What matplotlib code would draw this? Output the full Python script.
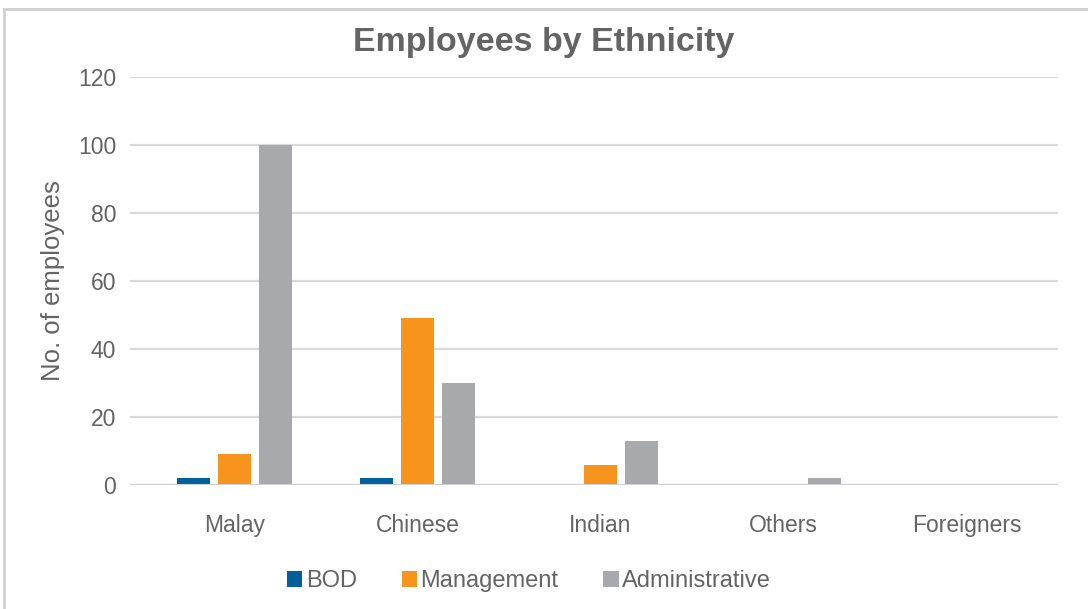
import matplotlib
matplotlib.use("Agg")
import matplotlib.pyplot as plt
import numpy as np
from matplotlib.patches import Rectangle

categories = ["Malay", "Chinese", "Indian", "Others", "Foreigners"]
bod = [2, 2, 0, 0, 0]
management = [9, 49, 6, 0, 0]
administrative = [100, 30, 13, 2, 0]
series_names = ["BOD", "Management", "Administrative"]
series_colors = ["#00609c", "#f7941d", "#a7a9ac"]
y_ticks = [0, 20, 40, 60, 80, 100, 120]

text_color = "#646464"
plt.rcParams["font.family"] = ["Liberation Sans", "DejaVu Sans"]

fig = plt.figure(figsize=(10.88, 6.09), dpi=100)
# outer frame of the chart area
fig.patches.append(Rectangle((4 / 1088, -0.1), 1.2, 1 - 9 / 609 + 0.1,
                             transform=fig.transFigure, fill=False,
                             edgecolor="#cfcfcf", linewidth=2.0))

ax = fig.add_axes([130 / 1088, 1 - 485 / 609, 928 / 1088, (485 - 77) / 609])

x = np.arange(len(categories))
width = 0.180
step = 0.224
for i, (vals, name, col) in enumerate(zip([bod, management, administrative],
                                          series_names, series_colors)):
    ax.bar(x + (i - 1) * step, vals, width=width, color=col, label=name, zorder=3)

ax.set_xlim(-0.571, 4.5)
ax.set_ylim(0, 120)
ax.set_yticks(y_ticks)
ax.set_xticks(x)
ax.set_xticklabels(categories)
ax.grid(axis="y", color="#d9d9d9", linewidth=1.6, zorder=0)
ax.axhline(0, color="#d0d0d0", linewidth=2.2, zorder=4)
for s in ax.spines.values():
    s.set_visible(False)
ax.tick_params(axis="both", length=0, labelsize=16.5, colors=text_color)
ax.tick_params(axis="x", pad=21)
ax.tick_params(axis="y", pad=10)
ax.set_ylabel("No. of employees", fontsize=18.5, color=text_color, labelpad=9)

fig.text(0.5, 1 - 42 / 609, "Employees by Ethnicity", ha="center", va="center",
         fontsize=24.5, fontweight="bold", color=text_color)

leg = fig.legend(loc="center", bbox_to_anchor=(529 / 1088, 1 - 581 / 609), ncol=3,
                 frameon=False, fontsize=17, handlelength=0.65, handleheight=0.65,
                 handletextpad=0.15, columnspacing=1.9)
for t in leg.get_texts():
    t.set_color(text_color)

fig.savefig("out.png", dpi=100)
